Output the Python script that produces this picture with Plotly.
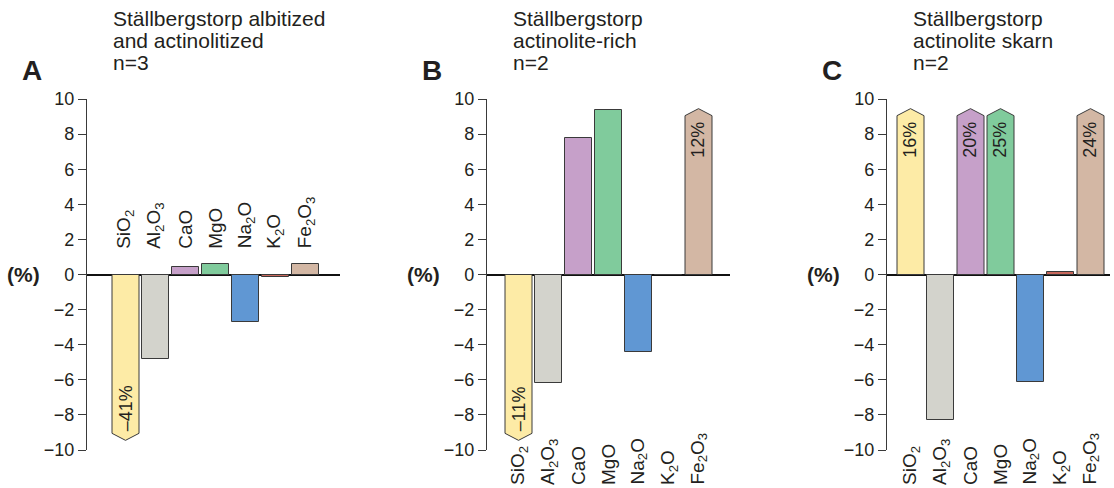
import plotly.graph_objects as go

W, H = 1114, 488

categories = ["SiO<sub>2</sub>", "Al<sub>2</sub>O<sub>3</sub>", "CaO", "MgO",
              "Na<sub>2</sub>O", "K<sub>2</sub>O", "Fe<sub>2</sub>O<sub>3</sub>"]
colors = ["#FDEBA6", "#D3D3CC", "#C6A0C9", "#80CB9C", "#6097D3", "#C8685C", "#D3B7A4"]

titles_A = ["Ställbergstorp albitized", "and actinolitized", "n=3"]
titles_B = ["Ställbergstorp", "actinolite-rich", "n=2"]
titles_C = ["Ställbergstorp", "actinolite skarn", "n=2"]

values_A = [-41, -4.8, 0.4, 0.62, -2.7, -0.12, 0.62]
values_B = [-11, -6.2, 7.8, 9.4, -4.4, 0.0, 12]
values_C = [16, -8.3, 20, 25, -6.1, 0.12, 24]

panel_letters = ["A", "B", "C"]
yticks = list(range(-10, 11, 2))

def xp(px):
    return px / W

def yp(py):
    return 1 - py / H

panels = [
    dict(vals=values_A, titles=titles_A, axis_px=87, first_px=125.5, end_px=340, labels_top=True),
    dict(vals=values_B, titles=titles_B, axis_px=487, first_px=518.5, end_px=730, labels_top=False),
    dict(vals=values_C, titles=titles_C, axis_px=887, first_px=910.5, end_px=1110, labels_top=False),
]
step_px = 30
y_top_px, y_bot_px = 99, 450

FONT = "Liberation Sans, Arial, Helvetica, sans-serif"
TXT = "#231f20"
EDGE = "#3a3a3a"
BW = 0.45
SHOULDER, TIP = 9.05, 9.45

fig = go.Figure()
annotations = []

for k, p in enumerate(panels):
    sfx = "" if k == 0 else str(k + 1)
    xa, ya = "x" + sfx, "y" + sfx
    n = len(categories)
    xs = list(range(n))
    bar_y = [v if abs(v) <= 10 else None for v in p["vals"]]
    fig.add_trace(go.Bar(x=xs, y=bar_y, width=2 * BW, marker=dict(color=colors,
                         line=dict(color=EDGE, width=1)), xaxis=xa, yaxis=ya,
                         showlegend=False, hoverinfo="skip"))
    for i, v in enumerate(p["vals"]):
        if abs(v) > 10:
            s = 1 if v > 0 else -1
            px_ = [i - BW, i - BW, i, i + BW, i + BW, i - BW]
            py_ = [0, s * SHOULDER, s * TIP, s * SHOULDER, 0, 0]
            fig.add_trace(go.Scatter(x=px_, y=py_, mode="lines", fill="toself",
                                     fillcolor=colors[i], line=dict(color=EDGE, width=1),
                                     xaxis=xa, yaxis=ya, showlegend=False, hoverinfo="skip"))
            label = ("\u2013" if v < 0 else "") + f"{abs(v)}%"
            annotations.append(dict(x=i, y=s * 7.65, xref=xa, yref=ya, text=label,
                                    textangle=-90, showarrow=False,
                                    font=dict(family=FONT, size=18, color=TXT)))
    for i, c in enumerate(categories):
        if p["labels_top"]:
            annotations.append(dict(x=i, y=1.35, xref=xa, yref=ya, text=c, textangle=-90,
                                    xanchor="center", yanchor="bottom", showarrow=False,
                                    font=dict(family=FONT, size=19, color=TXT)))
        else:
            annotations.append(dict(x=i, y=yp(487), xref=xa, yref="paper", text=c,
                                    textangle=-90, xanchor="center", yanchor="bottom",
                                    showarrow=False,
                                    font=dict(family=FONT, size=19, color=TXT)))
    x0 = (p["axis_px"] - p["first_px"]) / step_px
    x1 = (p["end_px"] - p["first_px"]) / step_px
    fig.update_layout(**{
        "xaxis" + sfx: dict(domain=[xp(p["axis_px"]), xp(p["end_px"])], range=[x0, x1],
                            visible=False, anchor=ya),
        "yaxis" + sfx: dict(domain=[yp(y_bot_px), yp(y_top_px)], range=[-10, 10],
                            anchor=xa, tickvals=yticks, ticks="outside", ticklen=8,
                            tickcolor=EDGE, tickwidth=1, showline=True, linecolor=EDGE,
                            linewidth=1.2, showgrid=False, zeroline=True,
                            zerolinecolor="#111", zerolinewidth=1.6, automargin=False,
                            tickfont=dict(family=FONT, size=18, color=TXT)),
    })
    off = 400 * k
    for j, t in enumerate(p["titles"]):
        annotations.append(dict(x=xp(111 + off), y=yp(19 + 22 * j), xref="paper", yref="paper",
                                text=t, xanchor="left", yanchor="middle", showarrow=False,
                                font=dict(family=FONT, size=21, color=TXT)))
    annotations.append(dict(x=xp(20 + off), y=yp(71), xref="paper", yref="paper",
                            text="<b>" + panel_letters[k] + "</b>", xanchor="left",
                            yanchor="middle", showarrow=False,
                            font=dict(family=FONT, size=28, color=TXT)))
    annotations.append(dict(x=xp(5 + off), y=yp(274), xref="paper", yref="paper",
                            text="<b>(%)</b>", xanchor="left", yanchor="middle",
                            showarrow=False, font=dict(family=FONT, size=21, color=TXT)))

fig.update_layout(width=W, height=H, margin=dict(l=0, r=0, t=0, b=0, pad=0, autoexpand=False),
                  paper_bgcolor="white", plot_bgcolor="white", bargap=0, showlegend=False,
                  annotations=annotations)

fig.write_html("out.html")
